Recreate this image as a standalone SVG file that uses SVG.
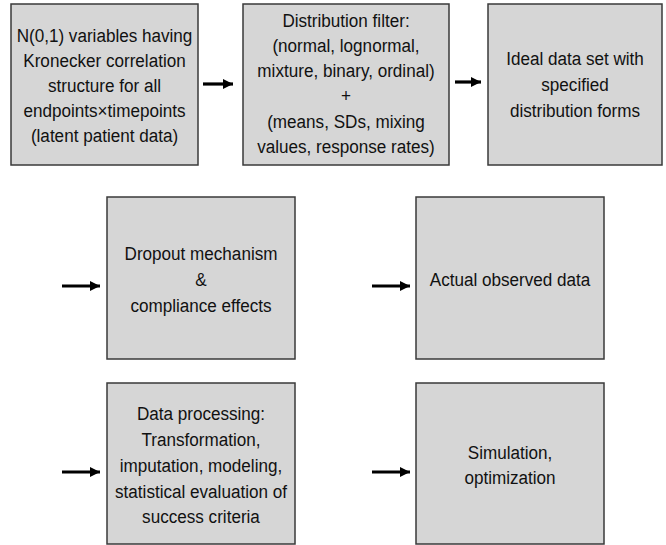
<svg xmlns="http://www.w3.org/2000/svg" width="666" height="545" viewBox="0 0 666 545">
<style>
.box{fill:#d6d6d6;stroke:#3a3a3a;stroke-width:1.5}
.t{font-family:"Liberation Sans",Arial,sans-serif;font-size:19px;fill:#111;text-anchor:middle}
.c{stroke:#000;stroke-width:3.2;fill:none}
</style>
<defs>
<marker id="ah" markerUnits="userSpaceOnUse" markerWidth="12" markerHeight="12" refX="10" refY="6" orient="auto">
<path d="M0,1 L10,6 L0,11 Z" fill="#000"/>
</marker>
</defs>
<rect width="666" height="545" fill="#fff"/>
<g id="n1"><rect class="box" x="11" y="4" width="187" height="161"/>
<text class="t" transform="translate(104.5 0) scale(0.9 1)"><tspan x="0" y="42">N(0,1) variables having</tspan><tspan x="0" y="67">Kronecker correlation</tspan><tspan x="0" y="92">structure for all</tspan><tspan x="0" y="117">endpoints×timepoints</tspan><tspan x="0" y="142">(latent patient data)</tspan></text></g>
<g id="n2"><rect class="box" x="243" y="4" width="206" height="161"/>
<text class="t" transform="translate(346 0) scale(0.9 1)"><tspan x="0" y="27">Distribution filter:</tspan><tspan x="0" y="52">(normal, lognormal,</tspan><tspan x="0" y="77">mixture, binary, ordinal)</tspan><tspan x="0" y="102">+</tspan><tspan x="0" y="128">(means, SDs, mixing</tspan><tspan x="0" y="153">values, response rates)</tspan></text></g>
<g id="n3"><rect class="box" x="488" y="4" width="174" height="161"/>
<text class="t" transform="translate(575 0) scale(0.9 1)"><tspan x="0" y="65">Ideal data set with</tspan><tspan x="0" y="91">specified</tspan><tspan x="0" y="117">distribution forms</tspan></text></g>
<g id="n4"><rect class="box" x="107" y="197" width="188" height="162"/>
<text class="t" transform="translate(201 0) scale(0.9 1)"><tspan x="0" y="260">Dropout mechanism</tspan><tspan x="0" y="286">&amp;</tspan><tspan x="0" y="312">compliance effects</tspan></text></g>
<g id="n5"><rect class="box" x="416" y="197" width="188" height="162"/>
<text class="t" transform="translate(510 0) scale(0.9 1)"><tspan x="0" y="286">Actual observed data</tspan></text></g>
<g id="n6"><rect class="box" x="107" y="383" width="188" height="161"/>
<text class="t" transform="translate(201 0) scale(0.9 1)"><tspan x="0" y="420">Data processing:</tspan><tspan x="0" y="446">Transformation,</tspan><tspan x="0" y="472">imputation, modeling,</tspan><tspan x="0" y="498">statistical evaluation of</tspan><tspan x="0" y="523">success criteria</tspan></text></g>
<g id="n7"><rect class="box" x="416" y="383" width="188" height="161"/>
<text class="t" transform="translate(510 0) scale(0.9 1)"><tspan x="0" y="459">Simulation,</tspan><tspan x="0" y="484">optimization</tspan></text></g>
<g id="connectors">
<line class="c" x1="203" y1="84" x2="233" y2="84" marker-end="url(#ah)"/>
<line class="c" x1="455" y1="82" x2="481" y2="82" marker-end="url(#ah)"/>
<line class="c" x1="62" y1="286" x2="100" y2="286" marker-end="url(#ah)"/>
<line class="c" x1="372" y1="286" x2="410" y2="286" marker-end="url(#ah)"/>
<line class="c" x1="62" y1="472" x2="100" y2="472" marker-end="url(#ah)"/>
<line class="c" x1="372" y1="472" x2="410" y2="472" marker-end="url(#ah)"/>
</g>
</svg>
